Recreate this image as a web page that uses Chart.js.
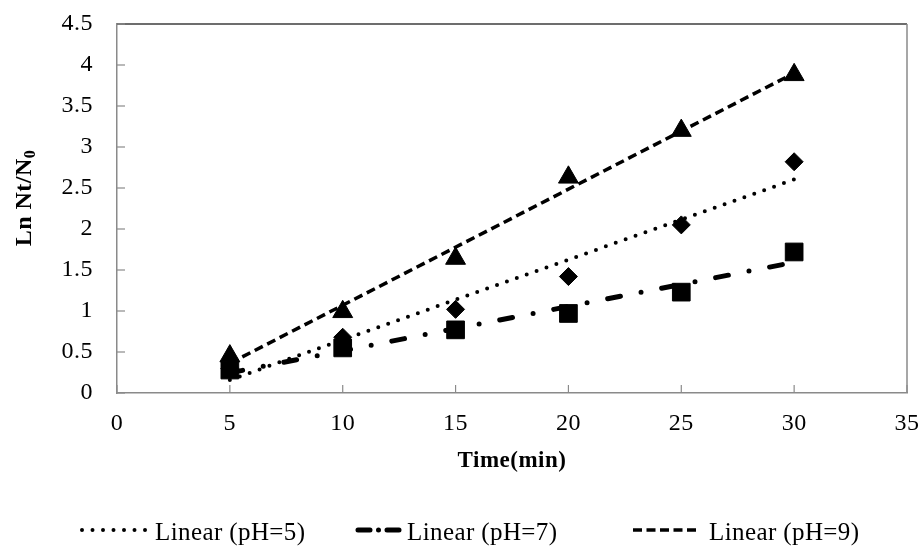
<!DOCTYPE html>
<html>
<head>
<meta charset="utf-8">
<title>Ln Nt/N0 vs time</title>
<script src="https://cdn.jsdelivr.net/npm/chart.js@4.4.1/dist/chart.umd.min.js"></script>
<style>
    html, body { margin: 0; padding: 0; background: #fff; }
</style>
</head>
<body>
<canvas id="chart" width="921" height="547"></canvas>
<script>
// Data
const times = [5, 10, 15, 20, 25, 30];
const ph5 = [0.30, 0.68, 1.02, 1.42, 2.05, 2.82];   // diamonds
const ph7 = [0.28, 0.55, 0.77, 0.97, 1.23, 1.72];   // squares
const ph9 = [0.45, 0.99, 1.64, 2.63, 3.20, 3.88];   // triangles
const legendLabels = ['Linear (pH=5)', 'Linear (pH=7)', 'Linear (pH=9)'];
const xTitle = 'Time(min)';
const yTitleMain = 'Ln Nt/N';
const yTitleSub = '0';

// Styles
const FONT = "'Liberation Serif', 'Times New Roman', serif";
const AXIS_GREY = '#8a8a8a';
const dotted = { borderWidth: 4, borderDash: [0, 10.5], borderCapStyle: 'round' };
const dashDot = { borderWidth: 5, borderDash: [13, 21, 0, 21], borderCapStyle: 'round' };
const dashed = { borderWidth: 3.5, borderDash: [9, 5], borderCapStyle: 'butt' };

// least squares trend line, drawn between first and last x
function trend(xs, ys) {
    const n = xs.length;
    const mx = xs.reduce((a, b) => a + b, 0) / n;
    const my = ys.reduce((a, b) => a + b, 0) / n;
    let sxy = 0, sxx = 0;
    xs.forEach((x, i) => { sxy += (x - mx) * (ys[i] - my); sxx += (x - mx) * (x - mx); });
    const b = sxy / sxx;
    const a = my - b * mx;
    const x0 = xs[0], x1 = xs[n - 1];
    return [{ x: x0, y: a + b * x0 }, { x: x1, y: a + b * x1 }];
}

const pts = ys => times.map((t, i) => ({ x: t, y: ys[i] }));

// Текст чуть шире, как в оригинале
const spacingPlugin = {
    id: 'spacing',
    beforeUpdate(chart) { chart.ctx.letterSpacing = '0.5px'; },
    beforeDraw(chart) { chart.ctx.letterSpacing = '0.5px'; }
};

// Рамка и внутренние засечки
const framePlugin = {
    id: 'frame',
    afterDraw(chart) {
        const { ctx, scales: { x, y } } = chart;
        const left = x.getPixelForValue(x.min), right = x.getPixelForValue(x.max);
        const top = y.getPixelForValue(y.max), bottom = y.getPixelForValue(y.min);
        ctx.save();
        ctx.lineWidth = 1.5;
        ctx.strokeStyle = '#3c3c3c';
        ctx.beginPath();
        ctx.moveTo(left, top);
        ctx.lineTo(right, top);
        ctx.stroke();
        ctx.strokeStyle = AXIS_GREY;
        ctx.beginPath();
        ctx.moveTo(right, top);
        ctx.lineTo(right, bottom);
        ctx.stroke();
        ctx.lineWidth = 1.2;
        y.ticks.forEach(t => {
            const py = y.getPixelForValue(t.value);
            ctx.beginPath();
            ctx.moveTo(left, py);
            ctx.lineTo(left + 8, py);
            ctx.stroke();
        });
        x.ticks.forEach(t => {
            const px = x.getPixelForValue(t.value);
            ctx.beginPath();
            ctx.moveTo(px, bottom);
            ctx.lineTo(px, bottom - 8);
            ctx.stroke();
        });
        ctx.restore();
    }
};

// Заголовок оси Y с индексом
const yTitlePlugin = {
    id: 'yTitle',
    afterDraw(chart) {
        const ctx = chart.ctx;
        ctx.save();
        ctx.translate(25, 198);
        ctx.rotate(-Math.PI / 2);
        ctx.fillStyle = '#000';
        ctx.textBaseline = 'middle';
        ctx.font = 'bold 24px ' + FONT;
        const w1 = ctx.measureText(yTitleMain).width;
        ctx.font = 'bold 16px ' + FONT;
        const w2 = ctx.measureText(yTitleSub).width;
        const start = -(w1 + w2) / 2;
        ctx.font = 'bold 24px ' + FONT;
        ctx.fillText(yTitleMain, start, 0);
        ctx.font = 'bold 16px ' + FONT;
        ctx.fillText(yTitleSub, start + w1, 6);
        ctx.restore();
    }
};

// Легенда внизу
const legendLayout = [
    { from: 82, to: 147, text: 155, style: dotted },
    { from: 358, to: 403, text: 407, style: { borderWidth: 5, borderDash: [12, 8.5, 0, 8.5], borderCapStyle: 'round' } },
    { from: 633, to: 700, text: 709, style: { borderWidth: 3.5, borderDash: [9, 4.5], borderCapStyle: 'butt' } }
];
const legendPlugin = {
    id: 'bottomLegend',
    afterDraw(chart) {
        const ctx = chart.ctx;
        ctx.save();
        legendLayout.forEach((item, i) => {
            const s = item.style;
            ctx.strokeStyle = '#000';
            ctx.lineWidth = s.borderWidth;
            ctx.lineCap = s.borderCapStyle;
            ctx.setLineDash(s.borderDash);
            ctx.beginPath();
            ctx.moveTo(item.from, 530);
            ctx.lineTo(item.to, 530);
            ctx.stroke();
            ctx.setLineDash([]);
            ctx.fillStyle = '#000';
            ctx.font = '25px ' + FONT;
            ctx.letterSpacing = '0.4px';
            ctx.textBaseline = 'alphabetic';
            ctx.textAlign = 'left';
            ctx.fillText(legendLabels[i], item.text, 540);
        });
        ctx.restore();
    }
};

const trendBase = { showLine: true, pointRadius: 0, pointHoverRadius: 0, borderColor: '#000', fill: false };
const markerBase = { showLine: false, backgroundColor: '#000', borderColor: '#000', pointBorderWidth: 1 };

new Chart(document.getElementById('chart'), {
    type: 'scatter',
    data: {
        datasets: [
            { ...trendBase, ...dotted, label: legendLabels[0], data: trend(times, ph5) },
            { ...trendBase, ...dashDot, label: legendLabels[1], data: trend(times, ph7) },
            { ...trendBase, ...dashed, label: legendLabels[2], data: trend(times, ph9) },
            { ...markerBase, label: 'pH=5', data: pts(ph5), pointStyle: 'rectRot', pointRadius: 9 },
            { ...markerBase, label: 'pH=7', data: pts(ph7), pointStyle: 'rect', pointRadius: 12.5 },
            { ...markerBase, label: 'pH=9', data: pts(ph9), pointStyle: 'triangle', pointRadius: 11.5 }
        ]
    },
    options: {
        responsive: false,
        devicePixelRatio: 1,
        animation: false,
        layout: { padding: { top: 24, right: 14, bottom: 72, left: 0 } },
        plugins: {
            legend: { display: false },
            tooltip: { enabled: false }
        },
        scales: {
            x: {
                type: 'linear',
                min: 0,
                max: 35,
                grid: { display: false, drawTicks: false },
                border: { color: AXIS_GREY, width: 1.5 },
                // padding 0 so the label doesn't widen the right margin; lineHeight pushes labels down
                ticks: { stepSize: 5, color: '#000', padding: 0, font: { family: FONT, size: 24, lineHeight: 2.6 } },
                title: {
                    display: true,
                    text: xTitle,
                    color: '#000',
                    padding: 0,
                    font: { family: FONT, size: 23, weight: 'bold' }
                },
                afterFit: scale => { scale.height = 82; }
            },
            y: {
                min: 0,
                max: 4.5,
                grid: { display: false, drawTicks: false },
                border: { color: AXIS_GREY, width: 1.5 },
                ticks: {
                    stepSize: 0.5,
                    color: '#000',
                    padding: 24,
                    font: { family: FONT, size: 24 },
                    callback: v => String(v)
                },
                afterFit: scale => {
                    scale.width = 117;
                    scale.paddingTop = 0;
                    scale.paddingBottom = 0;
                }
            }
        }
    },
    plugins: [spacingPlugin, framePlugin, yTitlePlugin, legendPlugin]
});
</script>
</body>
</html>
